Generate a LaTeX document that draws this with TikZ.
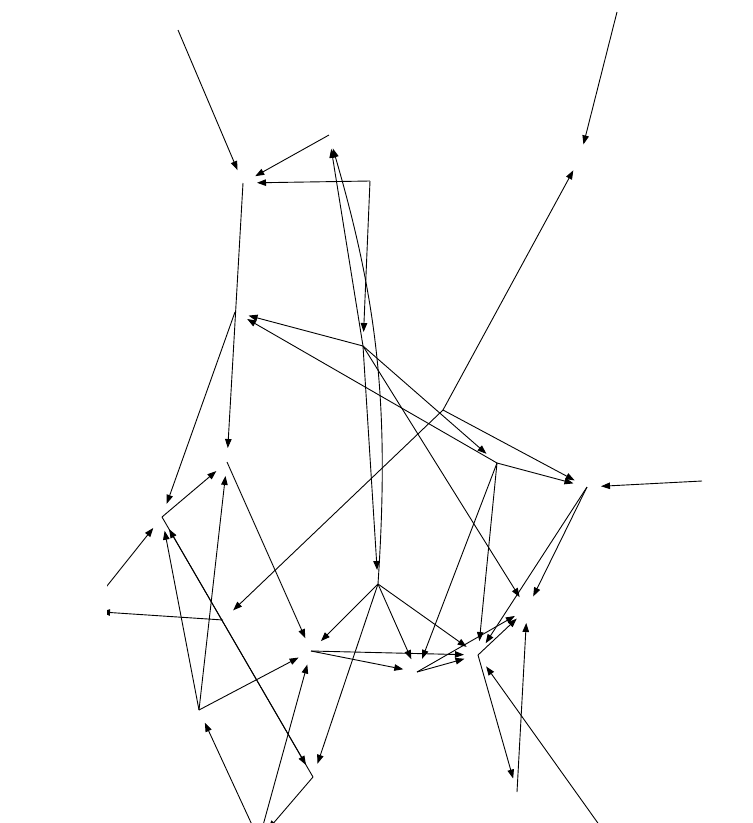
\documentclass[tikz,border=0pt]{standalone}
\usetikzlibrary{arrows.meta}
\begin{document}
\begin{tikzpicture}[
    x = 1pt, y = -1pt,
    > = {Triangle[length = 9pt, width = 6.5pt]},
    link/.style = {
      ->,
      line width = 0.9pt,
      shorten > = 14pt,
    },
  ]
  \useasboundingbox (0,0) rectangle (753,823);
  \clip (107,0) rectangle (753,823);
  % vertices
  \coordinate (tl) at (178,30);
  \coordinate (tr) at (617,12);
  \coordinate (rr) at (702,481);
  \coordinate (a) at (243,183);
  \coordinate (b) at (329,135);
  \coordinate (c) at (580,158);
  \coordinate (x) at (370,181);
  \coordinate (e) at (363,346);
  \coordinate (n) at (235,312);
  \coordinate (d) at (227,462);
  \coordinate (h) at (162,517);
  \coordinate (f) at (497,463);
  \coordinate (g) at (587,487);
  \coordinate (s) at (443,410);
  \coordinate (p) at (223,620);
  \coordinate (m) at (87,611);
  \coordinate (i) at (311,651);
  \coordinate (k4) at (378,584);
  \coordinate (r) at (417,672);
  \coordinate (t) at (478,655);
  \coordinate (q) at (527,609);
  \coordinate (k) at (313,777);
  \coordinate (j) at (199,710);
  \coordinate (v) at (517,792);
  \coordinate (l) at (259,840);
  \coordinate (br) at (610,840);
  % upper part
  \draw[link] (tl) -- (a);
  \draw[link] (b) -- (a);
  \draw[link] (x) -- (a);
  \draw[link] (x) -- (e);
  \draw[link] (a) -- (d);
  \draw[link] (tr) -- (c);
  \draw[link] (s) -- (c);
  \draw[link] (s) -- (p);
  \draw[link] (s) -- (g);
  \draw[link] (e) -- (b);
  \draw[link] (e) -- (n);
  \draw[link] (e) -- (f);
  \draw[link] (e) -- (k4);
  \draw[link] (e) -- (q);
  \draw[link] (k4) to[bend right = 10] (b);
  \draw[link] (n) -- (h);
  \draw[link] (f) -- (n);
  % left part
  \draw[link] (p) -- (m);
  \draw[link] (m) -- (h);
  \draw[link] (h) -- (d);
  \draw[link] (j) -- (d);
  \draw[link] (d) -- (i);
  \draw[link] (j) -- (h);
  \draw[link] (h) -- (k);
  \draw[link] (k) -- (h);
  \draw[link] (j) -- (i);
  \draw[link] (l) -- (j);
  \draw[link] (l) -- (i);
  \draw[link] (k) -- (l);
  % middle and right part
  \draw[link] (k4) -- (i);
  \draw[link] (k4) -- (r);
  \draw[link] (k4) -- (t);
  \draw[link] (k4) -- (k);
  \draw[link] (rr) -- (g);
  \draw[link] (f) -- (g);
  \draw[link] (g) -- (q);
  \draw[link] (g) -- (t);
  \draw[link] (f) -- (r);
  \draw[link] (f) -- (t);
  \draw[link] (i) -- (t);
  \draw[link] (i) -- (r);
  \draw[link] (r) -- (t);
  \draw[link] (r) -- (q);
  \draw[link] (t) -- (q);
  \draw[link] (t) -- (v);
  \draw[link] (v) -- (q);
  \draw[link] (br) -- (t);
\end{tikzpicture}
\end{document}
